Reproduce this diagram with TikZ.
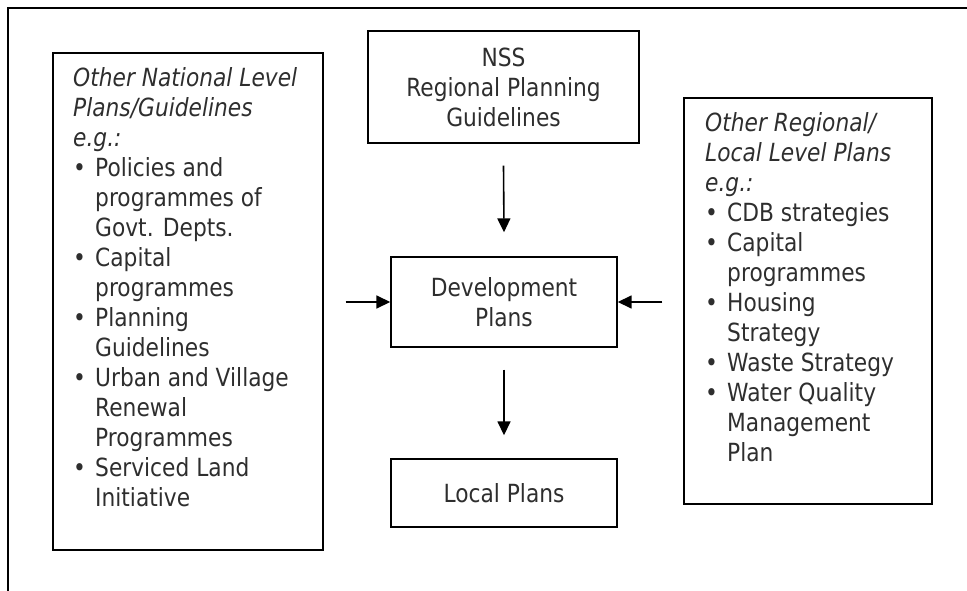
\documentclass[tikz,border=0pt]{standalone}
\usepackage{fontspec}
\setmainfont[FakeStretch=0.87]{DejaVu Sans}
\usetikzlibrary{positioning, arrows.meta}
\definecolor{inkgray}{HTML}{2E2E2E}
\newcommand{\bul}{\makebox[22pt][l]{\textbullet}}
\newcommand{\ind}{\hspace*{22pt}}

\begin{document}
\begin{tikzpicture}[x=1pt,y=-1pt,
    box/.style={draw, line width=1.4pt, inner sep=0pt},
    words/.style={text=inkgray, font=\fontsize{25}{30}\selectfont, align=center},
    list/.style={text=inkgray, font=\fontsize{25}{30}\selectfont, align=left, inner sep=0pt, anchor=north west},
    flow/.style={line width=1.6pt, -{Triangle[length=14pt,width=13pt]}}]
        \useasboundingbox (0,0) rectangle (967,591);
        % outer frame, only top and left edges show
        \draw[line width=1.5pt] (8,591) -- (8,8) -- (967,8);

        \node[box, words, minimum width=271pt, minimum height=112pt] (nss) at (503.5,87) {NSS\\Regional Planning\\Guidelines};
        \node[box, words, minimum width=226pt, minimum height=90pt] (dev) at (504,302) {Development\\Plans};
        \node[box, words, minimum width=226pt, minimum height=68pt] (loc) at (504,493) {Local Plans};
        \node[box, minimum width=270pt, minimum height=497pt] (nat) at (188,301.5) {};
        \node[box, minimum width=248pt, minimum height=406pt] (reg) at (808,301) {};

        \node[list] (natText) at (73,67) {\textit{Other National Level}\\\textit{Plans/Guidelines}\\\textit{e.g.:}\\
            \bul Policies and\\\ind programmes of\\\ind Govt. Depts.\\
            \bul Capital\\\ind programmes\\
            \bul Planning\\\ind Guidelines\\
            \bul Urban and Village\\\ind Renewal\\\ind Programmes\\
            \bul Serviced Land\\\ind Initiative};
        \node[list] (regText) at (705,112) {\textit{Other Regional/}\\\textit{Local Level Plans}\\\textit{e.g.:}\\
            \bul CDB strategies\\
            \bul Capital\\\ind programmes\\
            \bul Housing\\\ind Strategy\\
            \bul Waste Strategy\\
            \bul Water Quality\\\ind Management\\\ind Plan};

        \draw[flow] ([yshift=-22pt]nss.south) -- ([yshift=24pt]dev.north);
        \draw[flow] ([yshift=-22pt]dev.south) -- ([yshift=23pt]loc.north);
        \draw[flow] ([xshift=22pt]nat.east |- dev.west) -- (dev.west);
        \draw[flow] ([xshift=-21pt]reg.west |- dev.east) -- (dev.east);
    \end{tikzpicture}
\end{document}
